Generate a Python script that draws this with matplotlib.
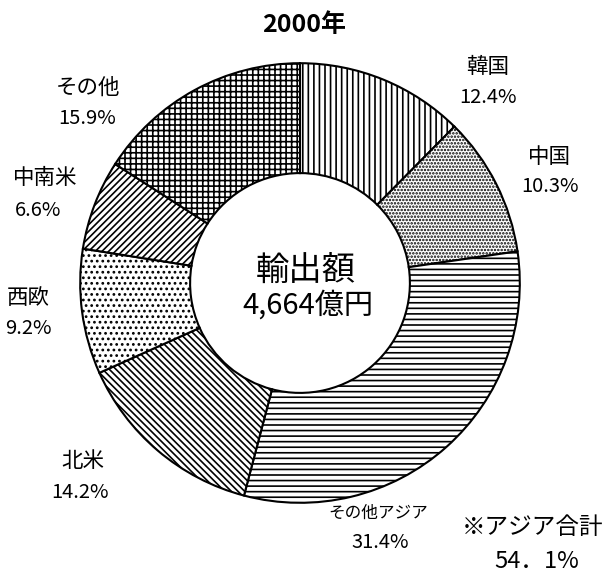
import matplotlib
matplotlib.use("Agg")
import matplotlib.pyplot as plt

plt.rcParams['font.family'] = ['Noto Sans CJK JP', 'DejaVu Sans']
plt.rcParams['hatch.linewidth'] = 1.2

# data (clockwise from top)
regions = ['韓国', '中国', 'その他アジア', '北米', '西欧', '中南米', 'その他']
shares = [12.4, 10.3, 31.4, 14.2, 9.2, 6.6, 15.9]
hatches = ['|||', '.....', '---', '\\' * 5, '...', '/' * 5, '+++']

W, H = 608, 574
fig = plt.figure(figsize=(W / 100, H / 100), dpi=100)

# donut: centre ~ (300, 283) px, radius ~222 px
cx, cy, r = 300, 283, 222
ax = fig.add_axes([(cx - r) / W, (H - cy - r) / H, 2 * r / W, 2 * r / H])
wedges, _ = ax.pie(shares, startangle=90, counterclock=False, radius=1,
                   wedgeprops=dict(width=0.5, edgecolor='black',
                                   facecolor='white', linewidth=1.5))
for w, h in zip(wedges, hatches):
    w.set_hatch(h)
ax.set_xlim(-1.01, 1.01)
ax.set_ylim(-1.01, 1.01)
ax.set_aspect('equal')
ax.axis('off')


def put(x, y, s, size=15, **kw):
    fig.text(x / W, 1 - y / H, s, ha='center', va='center', fontsize=size, **kw)


# label positions in pixels
label_pos = {
    '韓国': (488, 67, 488, 97),
    '中国': (549, 157, 550, 187),
    'その他アジア': (378, 513, 380, 542),
    '北米': (83, 461, 80, 492),
    '西欧': (28, 298, 28, 328),
    '中南米': (45, 178, 38, 210),
    'その他': (88, 88, 87, 118),
}
for name, val in zip(regions, shares):
    x1, y1, x2, y2 = label_pos[name]
    put(x1, y1, name, size=12 if name == 'その他アジア' else 15.5)
    put(x2, y2, f'{val}%', size=14.5)

put(304, 25, '2000年', size=18, fontweight='bold')
put(306, 270, '輸出額', size=24)
put(308, 306, '4,664億円', size=21)
put(533, 527, '※アジア合計', size=17)
put(537, 562, '54．1%', size=17)

fig.savefig('out.png', dpi=100)
